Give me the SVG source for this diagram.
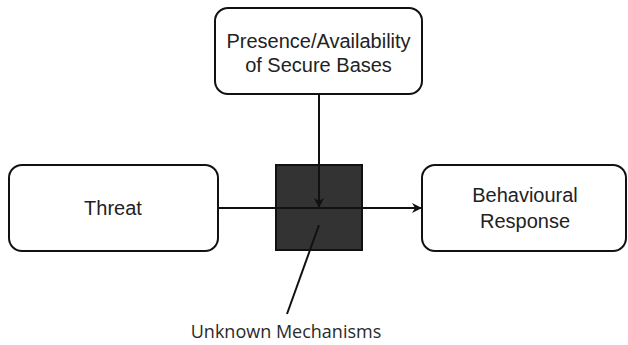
<svg xmlns="http://www.w3.org/2000/svg" width="628" height="345" viewBox="0 0 628 345">
  <defs>
    <style>
      .box { fill: #ffffff; stroke: #111111; stroke-width: 2; }
      .hub { fill: #333333; stroke: #111111; stroke-width: 2; }
      .label { font-family: "Liberation Sans", Arial, sans-serif; font-size: 20px; fill: #222222; text-anchor: middle; }
      .note { font-family: "Open Sans", "Noto Sans", sans-serif; font-size: 18px; fill: #2a2a2a; text-anchor: middle; }
      .wire { fill: none; stroke: #111111; stroke-width: 2; }
    </style>
    <marker id="arrow" viewBox="0 0 10 10" refX="9" refY="5" markerWidth="5" markerHeight="5" orient="auto" markerUnits="strokeWidth">
      <path d="M0,0 L10,5 L0,10 L3,5 Z" fill="#111111"/>
    </marker>
  </defs>

  <rect width="628" height="345" fill="#ffffff"/>

  <g id="secure-bases">
    <rect class="box" x="215" y="8" width="207" height="86" rx="13" ry="13"/>
    <text class="label" x="318.5" y="48">Presence/Availability</text>
    <text class="label" x="318.5" y="72">of Secure Bases</text>
  </g>

  <g id="threat">
    <rect class="box" x="9" y="165" width="209" height="86" rx="13" ry="13"/>
    <text class="label" x="113" y="215">Threat</text>
  </g>

  <g id="mechanism">
    <rect class="hub" x="276" y="165" width="86" height="85"/>
  </g>

  <g id="response">
    <rect class="box" x="422" y="165" width="204" height="86" rx="13" ry="13"/>
    <text class="label" x="525" y="202">Behavioural</text>
    <text class="label" x="525" y="228">Response</text>
  </g>

  <g id="connectors">
    <line class="wire" x1="319" y1="94" x2="319" y2="207" marker-end="url(#arrow)"/>
    <line class="wire" x1="218" y1="208" x2="421" y2="208" marker-end="url(#arrow)"/>
    <line class="wire" x1="319" y1="225" x2="287" y2="314"/>
  </g>

  <g id="unknown-mechanisms">
    <text class="note" x="286" y="338">Unknown Mechanisms</text>
  </g>
</svg>
